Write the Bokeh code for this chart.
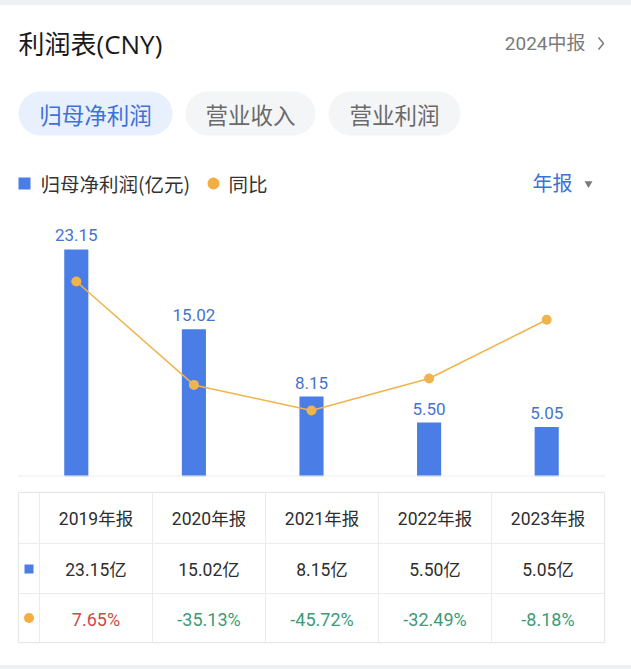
from bokeh.plotting import figure
from bokeh.layouts import column
from bokeh.models import Range1d, FactorRange, Span, ColumnDataSource
from bokeh.core.properties import value
from bokeh.embed import file_html
from bokeh.resources import INLINE

# ---------------- data ----------------
years = ["2019年报", "2020年报", "2021年报", "2022年报", "2023年报"]
profit = [23.15, 15.02, 8.15, 5.50, 5.05]          # 归母净利润 (亿元)
yoy = [7.65, -35.13, -45.72, -32.49, -8.18]        # 同比 (%)
tabs = ["归母净利润", "营业收入", "营业利润"]
title_text = "利润表(CNY)"
period_text = "2024中报"
legend_bar = "归母净利润(亿元)"
legend_line = "同比"
freq_text = "年报"

CJK = value("'Noto Sans CJK SC', 'Noto Sans', sans-serif")
MIX = value("'Open Sans', 'Noto Sans CJK SC', sans-serif")
NUM = value("Roboto, 'Noto Sans CJK SC', sans-serif")
BLUE = "#4A7DE6"
LBLUE = "#4673CF"
ORANGE = "#F0B44C"
GRAY = "#7A7A7A"
BAND = "#EEF0F2"
W, H = 631, 669
BL, BR = 17, 26            # shared left / right borders (frames are aligned in a column)
XL, XR = BL, W - BR        # frame spans page x BL..XR
TOPB, BOTB = 5, 665        # page background bands: 0..TOPB and BOTB..H


def blank(h, yr):
    p = figure(width=W, height=h, x_range=Range1d(XL, XR), y_range=yr,
               output_backend="svg", toolbar_location=None, x_axis_type=None,
               y_axis_type=None, min_border_left=BL, min_border_right=BR,
               min_border_top=0, min_border_bottom=0, outline_line_color=None,
               background_fill_alpha=0, border_fill_alpha=0)
    p.grid.visible = False
    return p


# ---------------- top spacer ----------------
top_band = blank(TOPB, Range1d(TOPB, 0))

# ---------------- header ----------------
H0, H1 = TOPB, 205
head = blank(H1 - H0, Range1d(H1, H0))
head.text(x=[18], y=[43], text=[title_text], text_font=MIX, text_font_size="26px",
          text_color="#1A1A1A", text_baseline="middle", text_align="left")
head.text(x=[585], y=[43], text=[period_text], text_font=NUM, text_font_size="19px",
          text_color=GRAY, text_baseline="middle", text_align="right")
head.line(x=[598, 603, 598], y=[37, 43, 49], line_color=GRAY, line_width=1.5)

tab_l = [18, 185, 328]
tab_r = [172, 315, 460]
tab_fill = ["#E8F0FD", "#F4F5F7", "#F4F5F7"]
tab_col = ["#3D72D8", "#6A6A6A", "#6A6A6A"]
for l, r, f, c, t in zip(tab_l, tab_r, tab_fill, tab_col, tabs):
    head.quad(left=l, right=r, top=91, bottom=135, fill_color=f, line_color=None,
              border_radius=22)
    head.text(x=[(l + r) / 2], y=[113], text=[t], text_font=CJK, text_font_size="22.5px",
              text_color=c, text_baseline="middle", text_align="center")

head.quad(left=18, right=30, top=177, bottom=189, fill_color=BLUE, line_color=None)
head.text(x=[40], y=[183], text=[legend_bar], text_font=CJK, text_font_size="19.5px",
          text_color="#333333", text_baseline="middle", text_align="left")
head.scatter(x=[213], y=[183], size=12, marker="circle", fill_color="#F2AE43", line_color=None)
head.text(x=[228], y=[183], text=[legend_line], text_font=CJK, text_font_size="19.5px",
          text_color="#333333", text_baseline="middle", text_align="left")
head.text(x=[552], y=[182], text=[freq_text], text_font=CJK, text_font_size="20px",
          text_color="#3D72D8", text_baseline="middle", text_align="center")
head.scatter(x=[588], y=[183], size=8, marker="inverted_triangle", fill_color=GRAY,
             line_color=None)

# ---------------- chart ----------------
C0, CBASE, C1 = 205, 476, 482
px_per_unit = 9.806
chart = figure(width=W, height=C1 - C0, x_range=FactorRange(*years, range_padding=0),
               y_range=Range1d(0, (CBASE - C0) / px_per_unit),
               output_backend="svg", toolbar_location=None, x_axis_type=None,
               y_axis_type=None, min_border_left=BL, min_border_right=BR,
               min_border_top=0, min_border_bottom=C1 - CBASE, outline_line_color=None,
               background_fill_alpha=0, border_fill_alpha=0)
chart.grid.visible = False
chart.extra_y_ranges = {"yoy": Range1d(-73.03, 39.09)}

src = ColumnDataSource(dict(x=years, profit=profit, yoy=yoy,
                            lab=[f"{v:.2f}" for v in profit]))
chart.add_layout(Span(location=0, dimension="width", line_color="#EEEEEE", line_width=2))
chart.vbar(x="x", top="profit", width=0.205, source=src, fill_color=BLUE, line_color=None)
chart.text(x="x", y="profit", text="lab", source=src, text_font=NUM,
           text_font_size="17px", text_color=LBLUE, text_align="center",
           text_baseline="middle", y_offset=-14)
chart.line(x="x", y="yoy", source=src, y_range_name="yoy", line_color=ORANGE, line_width=1.5)
chart.scatter(x="x", y="yoy", source=src, y_range_name="yoy", size=10, fill_color=ORANGE,
              line_color=None)

# ---------------- table ----------------
T0, T1 = C1, BOTB
tab = blank(T1 - T0, Range1d(T1, T0))
t_left, t_right, t_top, t_bot = 18, 604, 492, 642
first_w = 21
col_w = (t_right - t_left - first_w) / len(years)
rows = [492, 543, 593, 642]
tab.quad(left=t_left - 1, right=t_right + 1, top=t_top - 1, bottom=t_bot + 1,
         fill_color="#F6F6F6", line_color=None)
tab.quad(left=t_left, right=t_right, top=t_top, bottom=t_bot, fill_color="white",
         line_color="#E6E6E6", line_width=1)
xs_v = [t_left + first_w + i * col_w for i in range(len(years))]
tab.segment(x0=xs_v, x1=xs_v, y0=[t_top] * len(xs_v), y1=[t_bot] * len(xs_v),
            line_color="#EBEBEB", line_width=1)
tab.segment(x0=[t_left] * 2, x1=[t_right] * 2, y0=rows[1:3], y1=rows[1:3],
            line_color="#EBEBEB", line_width=1)
cx = [t_left + first_w + (i + 0.5) * col_w for i in range(len(years))]
ry = [(rows[i] + rows[i + 1]) / 2 + 1 for i in range(3)]
tab.text(x=cx, y=[ry[0]] * len(years), text=years, text_font=NUM, text_font_size="17.5px",
         text_color="#2E2E2E", text_align="center", text_baseline="middle")
tab.text(x=cx, y=[ry[1]] * len(years), text=[f"{v:.2f}亿" for v in profit], text_font=NUM,
         text_font_size="17.5px", text_color="#2E2E2E", text_align="center",
         text_baseline="middle")
tab.text(x=cx, y=[ry[2]] * len(years), text=[f"{v:.2f}%" for v in yoy], text_font=NUM,
         text_font_size="18px",
         text_color=["#D04848" if v >= 0 else "#3E9A78" for v in yoy],
         text_align="center", text_baseline="middle")
tab.quad(left=24, right=33, top=ry[1] - 5, bottom=ry[1] + 4, fill_color=BLUE, line_color=None)
tab.scatter(x=[28.5], y=[ry[2] - 1], size=10, marker="circle", fill_color="#F2AE43",
            line_color=None)

# ---------------- bottom spacer ----------------
bottom_band = blank(H - T1, Range1d(H, T1))

bg = (f"linear-gradient(to bottom, {BAND} 0px, {BAND} {TOPB}px, white {TOPB}px, "
      f"white {BOTB}px, {BAND} {BOTB}px, {BAND} {H}px)")
layout = column(top_band, head, chart, tab, bottom_band, spacing=0,
                styles={"background": bg, "overflow": "hidden",
                        "width": f"{W}px", "height": f"{H}px"})
open("out.html", "w").write(file_html(layout, INLINE))
